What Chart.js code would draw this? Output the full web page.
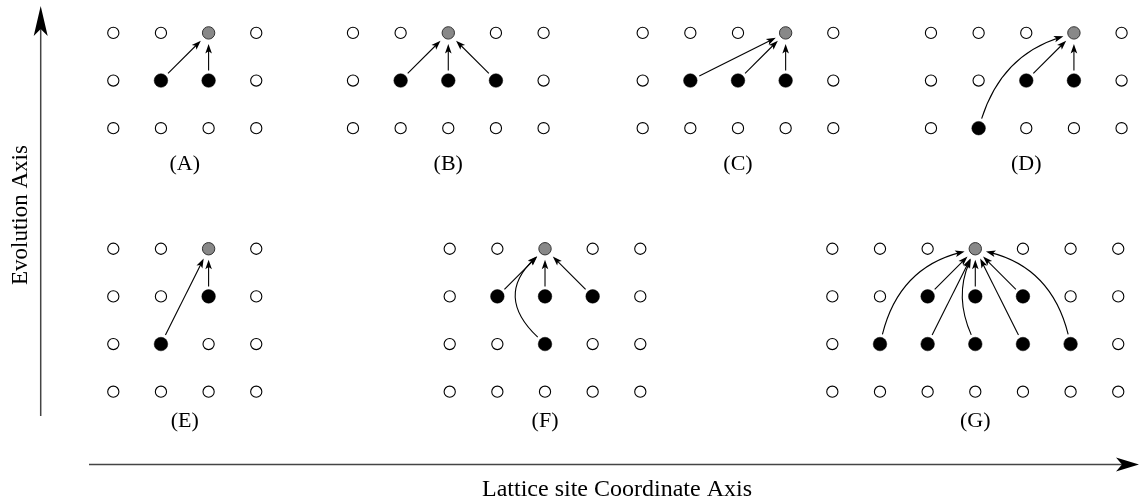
<!DOCTYPE html>
<html>
<head>
<meta charset="utf-8">
<script src="https://cdn.jsdelivr.net/npm/chart.js@4/dist/chart.umd.min.js"></script>
<style>
  html, body { margin: 0; padding: 0; background: #fff; }
  #wrap { width: 1139px; height: 502px; }
</style>
</head>
<body>
<div id="wrap"><canvas id="lattice" width="1139" height="502"></canvas></div>
<script>
// panels of the lattice
const panelLabels = ['(A)', '(B)', '(C)', '(D)', '(E)', '(F)', '(G)'];
const panelCols = [4, 5, 5, 5, 4, 5, 7];
const panelRows = [3, 3, 3, 3, 4, 4, 4];
// lower-left site of each panel, in lattice units
const panelX = [0, 5.03, 11.11, 17.16, 0, 7.06, 15.09];
const panelY = [5.53, 5.53, 5.53, 5.53, 0, 0, 0];
// [col, row] with row 0 at the bottom of the panel
const targetSites = [[2, 2], [2, 2], [3, 2], [3, 2], [2, 3], [2, 3], [3, 3]];
const sourceSites = [
    [[1, 1], [2, 1]],
    [[1, 1], [2, 1], [3, 1]],
    [[1, 1], [2, 1], [3, 1]],
    [[1, 0], [2, 1], [3, 1]],
    [[1, 1], [2, 2]],
    [[1, 2], [2, 2], [3, 2], [2, 1]],
    [[2, 2], [3, 2], [4, 2], [1, 1], [2, 1], [3, 1], [4, 1], [5, 1]]
];
// how much each arrow bows (0 = straight)
const arrowBends = [
    [0, 0],
    [0, 0, 0],
    [0, 0, 0],
    [0.26, 0, 0],
    [0, 0],
    [0, 0, 0, 0.53],
    [0, 0, 0, 0.3, 0, 0.22, 0, -0.3]
];
const xTitle = 'Lattice site Coordinate Axis';
const yTitle = 'Evolution Axis';

const W = 1139, H = 502, STEP = 47.65;
const X_MIN = -113.3 / STEP, X_MAX = X_MIN + W / STEP;
const Y_MIN = -(H - 391.7) / STEP, Y_MAX = Y_MIN + H / STEP;
const FONT = '"Liberation Serif", "Times New Roman", serif';

const sameSite = (a, b) => a[0] === b[0] && a[1] === b[1];
const openPts = [], sourcePts = [], targetPts = [];
panelLabels.forEach((lab, p) => {
    for (let c = 0; c < panelCols[p]; c++) {
        for (let r = 0; r < panelRows[p]; r++) {
            const pt = { x: panelX[p] + c, y: panelY[p] + r };
            if (sameSite(targetSites[p], [c, r])) targetPts.push(pt);
            else if (sourceSites[p].some(s => sameSite(s, [c, r]))) sourcePts.push(pt);
            else openPts.push(pt);
        }
    }
});

function drawHead(ctx, tx, ty, ux, uy, len, half, notch) {
    const px = -uy, py = ux;
    ctx.beginPath();
    ctx.moveTo(tx, ty);
    ctx.lineTo(tx - ux * len + px * half, ty - uy * len + py * half);
    ctx.lineTo(tx - ux * (len - notch), ty - uy * (len - notch));
    ctx.lineTo(tx - ux * len - px * half, ty - uy * len - py * half);
    ctx.closePath();
    ctx.fill();
}

const arrowPlugin = {
    id: 'arrows',
    afterDatasetsDraw(chart) {
        const ctx = chart.ctx;
        const xs = chart.scales.x, ys = chart.scales.y;
        ctx.save();
        ctx.strokeStyle = '#000';
        ctx.fillStyle = '#000';
        ctx.lineWidth = 1.1;
        panelLabels.forEach((lab, p) => {
            const t = targetSites[p];
            const ex = xs.getPixelForValue(panelX[p] + t[0]);
            const ey = ys.getPixelForValue(panelY[p] + t[1]);
            sourceSites[p].forEach((s, i) => {
                const sx = xs.getPixelForValue(panelX[p] + s[0]);
                const sy = ys.getPixelForValue(panelY[p] + s[1]);
                const dx = ex - sx, dy = ey - sy;
                const len = Math.hypot(dx, dy);
                const b = arrowBends[p][i];
                const cx = (sx + ex) / 2 + (dy / len) * b * len;
                const cy = (sy + ey) / 2 + (-dx / len) * b * len;
                let ax = cx - sx, ay = cy - sy, al = Math.hypot(ax, ay);
                const x0 = sx + ax / al * 10, y0 = sy + ay / al * 10;
                let bx = ex - cx, by = ey - cy, bl = Math.hypot(bx, by);
                bx /= bl; by /= bl;
                const x1 = ex - bx * 11, y1 = ey - by * 11;
                ctx.beginPath();
                ctx.moveTo(x0, y0);
                ctx.quadraticCurveTo(cx, cy, x1 - bx * 4, y1 - by * 4);
                ctx.stroke();
                drawHead(ctx, x1, y1, bx, by, 9.5, 3.3, 2.2);
            });
            // panel caption
            const mx = xs.getPixelForValue(panelX[p] + (panelCols[p] - 1) / 2);
            const my = ys.getPixelForValue(panelY[p]) + (panelRows[p] === 3 ? 36 : 30);
            ctx.font = '22px ' + FONT;
            ctx.textAlign = 'center';
            ctx.textBaseline = 'middle';
            ctx.fillText(lab, mx, my);
        });

        // the two axis arrows
        ctx.strokeStyle = '#444';
        ctx.fillStyle = '#000';
        ctx.lineWidth = 1.5;
        ctx.beginPath();
        ctx.moveTo(40.7, 416);
        ctx.lineTo(40.7, 20);
        ctx.stroke();
        drawHead(ctx, 40.7, 6, 0, -1, 30, 7, 7);
        ctx.beginPath();
        ctx.moveTo(89, 464.5);
        ctx.lineTo(1125, 464.5);
        ctx.stroke();
        drawHead(ctx, 1139, 464.5, 1, 0, 23, 7, 6);

        ctx.fillStyle = '#000';
        ctx.font = '24px ' + FONT;
        ctx.textAlign = 'center';
        ctx.textBaseline = 'middle';
        ctx.fillText(xTitle, 617, 490);
        ctx.font = '23px ' + FONT;
        ctx.translate(21, 215);
        ctx.rotate(-Math.PI / 2);
        ctx.fillText(yTitle, 0, 0);
        ctx.restore();
    }
};

new Chart(document.getElementById('lattice'), {
    type: 'scatter',
    data: {
        datasets: [
            {
                label: 'empty site',
                data: openPts,
                pointRadius: 5.6,
                pointBackgroundColor: '#fff',
                pointBorderColor: '#000',
                pointBorderWidth: 1.1
            },
            {
                label: 'contributing site',
                data: sourcePts,
                pointRadius: 6.8,
                pointBackgroundColor: '#000',
                pointBorderColor: '#000',
                pointBorderWidth: 0.5
            },
            {
                label: 'updated site',
                data: targetPts,
                pointRadius: 6.2,
                pointBackgroundColor: '#888',
                pointBorderColor: '#333',
                pointBorderWidth: 1
            }
        ]
    },
    options: {
        responsive: false,
        animation: false,
        layout: { padding: 0, autoPadding: false },
        plugins: {
            legend: { display: false },
            tooltip: { enabled: false }
        },
        scales: {
            x: { type: 'linear', display: false, min: X_MIN, max: X_MAX },
            y: { type: 'linear', display: false, min: Y_MIN, max: Y_MAX }
        }
    },
    plugins: [arrowPlugin]
});
</script>
</body>
</html>
